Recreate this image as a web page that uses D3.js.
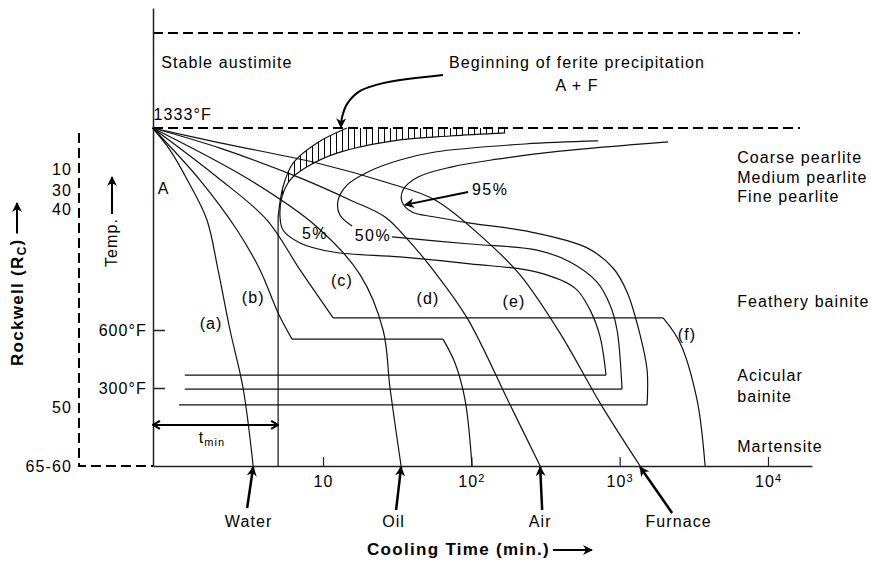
<!DOCTYPE html>
<meta charset="utf-8">
<style>
  body { margin: 0; background: #fff; }
  svg { display: block; background: #fff; font-family: "Liberation Sans", Arial, sans-serif; }
  text { font-size: 16px; letter-spacing: 1.1px; fill: #000; }
  .bold { font-weight: bold; font-size: 17px; letter-spacing: 1.3px; }
</style>
<svg width="871" height="562"></svg>
<script src="https://cdnjs.cloudflare.com/ajax/libs/d3/7.9.0/d3.min.js"></script>
<script>

// time in minutes, temperature in °F (the temperature axis of the sketch is not linear)
var timeTicks = [10, 100, 1000, 10000];
var tempTicks = [300, 600];
var austenitizeTemp = 1333;
var topTemp = 1600;
var tMin = 4.98;

// cooling curves, all starting at 1333°F
var water = [[0.71,1333],[0.93,1253],[1.27,1126],[1.65,999],[1.96,818],[2.36,600],[2.89,300],[3.38,0]];
var curveB = [[0.71,1333],[1.48,1144],[2.63,963],[3.76,818],[4.98,662],[6.18,553]];
var curveBFlat = [[6.18,553],[64.4,553]];
var curveBDrop = [[64.4,553],[77.6,429],[90.7,254],[101,0]];
var curveF = [[0.71,1333],[1.93,1155],[4.19,999],[7.00,818],[11.7,644]];
var curveFFlat = [[11.7,644],[1963,644]];
var curveFDrop = [[1963,644],[2553,533],[3324,254],[3767,0]];
var oil = [[0.71,1333],[3.22,1144],[9.11,974],[17.8,800],[25.4,600],[28.3,300],[33.6,0]];
var air = [[0.71,1333],[2.02,1260],[7.00,1152],[15.2,1072],[26.2,1010],[37.4,927],[55.2,818],[93.6,644],[180,242],[291,0]];
var furnace = [[0.71,1333],[2.02,1279],[9.11,1206],[26.2,1137],[56.9,1072],[124,927],[213,800],[396,584],[738,242],[1374,0]];

// transformation curves
var ferriteStart = [[14.5,1333],[9.11,1279],[6.28,1206],[5.37,1119],[4.98,1010]];
var pct5 = [[169,1315],[71.8,1304],[33.0,1290],[12.4,1242],[7.80,1192],[5.99,1144],[5.29,1083],[5.13,1010],
            [5.37,963],[7.00,916],[11.7,883],[33.0,865],[98.0,840],[277,810],[500,752],[631,673],[738,564],[809,367]];
var pct5Flat = [[809,367],[1.17,367]];
var pct50Upper = [[715,1286],[230,1275],[56.9,1246],[33.0,1217],[20.7,1177],[14.5,1126],[12.6,1068],[13.0,1017],[15.7,977]];
var pct50Lower = [[29.2,938],[98.0,912],[277,890],[463,847],[704,774],[861,691],[960,600],[1037,296]];
var pct50Flat = [[1037,296],[1.17,296]];
var pct95 = [[2120,1283],[396,1249],[149,1220],[74.1,1192],[43.7,1155],[34.6,1108],[34.1,1065],[39.8,1028],[56.9,1010],
             [98.0,988],[249,956],[603,898],[902,825],[1121,738],[1374,574],[1531,393],[1531,235]];
var pct95Flat = [[1531,235],[1.07,235]];

// annotations (anchored in time / temperature)
var curveNames = ["(a)", "(b)", "(c)", "(d)", "(e)", "(f)"];
var curveNameAt = [[1.76,625],[3.38,720],[13.4,781],[51.0,713],[194,705],[2844,579]];
var pctNames = ["5%", "50%", "95%"];
var pctNameAt = [[8.83,952],[21.7,945],[134,1112]];
var phaseNames = ["Coarse pearlite", "Medium pearlite", "Fine pearlite", "Feathery bainite", "Acicular", "bainite", "Martensite"];
var phaseTemps = [1228, 1155, 1083, 702, 367, 269, 77];
var phaseTime = 6194;
var quenchNames = ["Water", "Oil", "Air", "Furnace"];
var quenchTimes = [3.38, 33.6, 291, 1374];
var hardnessNames = ["10", "30", "40", "50", "65-60"];
var hardnessTemps = [1181, 1108, 1039, 227, 0];
var ferriteArrow = [[64.4,1482],[25.4,1459],[17.8,1437],[14.5,1400],[13.4,1361],[13.2,1335]];
var pct95Arrow = [[95.1,1101],[35.7,1054]];
var tMinArrowTemp = 158;

var svg = d3.select("svg");

var x = d3.scaleLog().domain([0.714, 19800]).range([153, 812]);
var y = d3.scaleLinear().domain([0, 300, 600, 1333, 1670]).range([466, 388, 330, 128, 8]);

var smooth = d3.line().x(d => x(d[0])).y(d => y(d[1])).curve(d3.curveCatmullRom.alpha(0.5));
var straight = d3.line().x(d => x(d[0])).y(d => y(d[1]));

var defs = svg.append("defs");
defs.append("marker").attr("id", "head")
    .attr("viewBox", "0 0 10 10").attr("refX", 9).attr("refY", 5)
    .attr("markerWidth", 10).attr("markerHeight", 10)
    .attr("markerUnits", "userSpaceOnUse").attr("orient", "auto")
  .append("path").attr("d", "M0,0L10,5L0,10L3,5Z").attr("fill", "#000");
defs.append("marker").attr("id", "chev")
    .attr("viewBox", "0 0 10 10").attr("refX", 9).attr("refY", 5)
    .attr("markerWidth", 10).attr("markerHeight", 10)
    .attr("markerUnits", "userSpaceOnUse").attr("orient", "auto-start-reverse")
  .append("path").attr("d", "M2,1L9,5L2,9").attr("fill", "none").attr("stroke", "#000").attr("stroke-width", 2);
var pat = defs.append("pattern").attr("id", "hatch")
    .attr("patternUnits", "userSpaceOnUse").attr("width", 6).attr("height", 8);
pat.append("line").attr("x1", 0.5).attr("x2", 0.5).attr("y1", 0).attr("y2", 8)
    .attr("stroke", "#000").attr("stroke-width", 1);

// hatched band: ferrite start line to 5% line
var innerBranch = pct5.slice(0, 8).reverse();
var hatchD = "M" + x(pct5[0][0]) + "," + y(austenitizeTemp) +
    "L" + x(ferriteStart[0][0]) + "," + y(austenitizeTemp) +
    smooth(ferriteStart).replace(/^M/, "L") +
    smooth(innerBranch).replace(/^M/, "L") + "Z";
svg.append("path").attr("d", hatchD).attr("fill", "url(#hatch)");

// dashed guide lines
var dashed = svg.append("g").attr("stroke", "#000").attr("stroke-width", 2)
    .attr("stroke-dasharray", "10,5").attr("fill", "none");
dashed.append("path").attr("d", straight([[0.714, topTemp], [16440, topTemp]]));
dashed.append("path").attr("d", straight([[0.714, austenitizeTemp], [16440, austenitizeTemp]]));
var rockX = 79;
dashed.append("path").attr("d", "M" + rockX + "," + y(1315) + "V" + y(0) + "H" + x(0.714));

// axes
var gy = svg.append("g").attr("transform", "translate(" + x(0.714) + ",0)")
    .call(d3.axisRight(y).tickValues(tempTicks).tickSize(12).tickSizeOuter(0).tickFormat(""));
gy.select(".domain").attr("stroke-width", 1.5);
gy.selectAll(".tick line").attr("stroke-width", 1.5);
gy.attr("color", "#222");

var gx = svg.append("g").attr("transform", "translate(0," + y(0) + ")")
    .call(d3.axisBottom(x).tickValues(timeTicks).tickSize(-9).tickSizeOuter(0).tickPadding(10).tickFormat(() => ""));
gx.attr("color", "#222");
gx.select(".domain").attr("stroke-width", 1.5);
gx.selectAll(".tick line").attr("stroke-width", 1.2);
gx.selectAll(".tick text").each(function(d) {
  var e = Math.round(Math.log10(d));
  var t = d3.select(this).attr("fill", "#000").text("10");
  if (e > 1) t.append("tspan").style("font-size", "11px").attr("dy", "-0.45em").text(e);
});

svg.selectAll(".ytick-label").data(tempTicks).enter().append("text")
    .attr("x", 147).attr("y", d => y(d)).attr("dy", "0.35em")
    .attr("text-anchor", "end").text(d => d + "°F");

// curves
var curves = svg.append("g").attr("fill", "none").attr("stroke", "#111").attr("stroke-width", 1.2);
[water, curveB, curveBDrop, curveF, curveFDrop, oil, air, furnace, ferriteStart, pct5, pct50Upper, pct50Lower, pct95]
  .forEach(function(c) { curves.append("path").attr("d", smooth(c)); });
[curveBFlat, curveFFlat, pct5Flat, pct50Flat, pct95Flat, [[tMin, 1010], [tMin, 0]]]
  .forEach(function(c) { curves.append("path").attr("d", straight(c)); });

// curve and percentage labels
svg.selectAll(".cname").data(curveNames).enter().append("text")
    .attr("x", (d, i) => x(curveNameAt[i][0])).attr("y", (d, i) => y(curveNameAt[i][1]))
    .attr("dy", "0.35em").attr("text-anchor", "middle").text(d => d);
svg.selectAll(".pname").data(pctNames).enter().append("text")
    .attr("x", (d, i) => x(pctNameAt[i][0])).attr("y", (d, i) => y(pctNameAt[i][1]))
    .attr("dy", "0.35em").attr("text-anchor", "middle").style("letter-spacing", "1.5px").text(d => d);

// phase names on the right
svg.selectAll(".phase").data(phaseNames).enter().append("text")
    .attr("x", x(phaseTime)).attr("y", (d, i) => y(phaseTemps[i]))
    .attr("dy", "0.35em").text(d => d);

// hardness scale on the left
svg.selectAll(".hrc").data(hardnessNames).enter().append("text")
    .attr("x", 72).attr("y", (d, i) => y(hardnessTemps[i]))
    .attr("dy", "0.35em").attr("text-anchor", "end").text(d => d);

// region texts
svg.append("text").attr("x", x(0.81)).attr("y", y(1518)).attr("dy", "0.35em").text("Stable austimite");
svg.append("text").attr("x", x(0.72)).attr("y", y(1372)).attr("dy", "0.35em").text("1333°F");
svg.append("text").attr("x", x(0.77)).attr("y", y(1115)).attr("dy", "0.35em").text("A");
svg.append("text").attr("x", x(516)).attr("y", y(1518)).attr("dy", "0.35em")
    .attr("text-anchor", "middle").text("Beginning of ferite precipitation");
svg.append("text").attr("x", x(516)).attr("y", y(1454)).attr("dy", "0.35em")
    .attr("text-anchor", "middle").text("A + F");

// arrows
var arrows = svg.append("g").attr("fill", "none").attr("stroke", "#000");
arrows.append("path").attr("d", smooth(ferriteArrow)).attr("stroke-width", 2).attr("marker-end", "url(#head)");
arrows.append("path").attr("d", straight(pct95Arrow)).attr("stroke-width", 2).attr("marker-end", "url(#head)");
arrows.append("path").attr("d", straight([[0.714, tMinArrowTemp], [tMin, tMinArrowTemp]]))
    .attr("stroke-width", 2).attr("marker-start", "url(#chev)").attr("marker-end", "url(#chev)");

var tm = svg.append("text").attr("x", x(1.785)).attr("y", y(88)).attr("text-anchor", "middle").text("t");
tm.append("tspan").style("font-size", "11px").attr("dy", "0.3em").text("min");

// quench media below the time axis
var quenchTail = [[-6, 508], [-5, 510], [2, 510], [32, 513]];
var quenchLabelDx = [-4.5, -7.5, 0, 38.5];
quenchNames.forEach(function(name, i) {
  var xe = x(quenchTimes[i]);
  arrows.append("line").attr("x1", xe + quenchTail[i][0]).attr("y1", quenchTail[i][1])
      .attr("x2", xe).attr("y2", y(0) + 1).attr("stroke-width", 2.5).attr("marker-end", "url(#head)");
  svg.append("text").attr("x", xe + quenchLabelDx[i]).attr("y", 527)
      .attr("text-anchor", "middle").text(name);
});

// axis titles
var cool = svg.append("text").attr("class", "bold").attr("x", 367).attr("y", 555).text("Cooling Time (min.)");
var cl = cool.node().getComputedTextLength();
arrows.append("line").attr("x1", 367 + cl + 3).attr("x2", 592).attr("y1", 550).attr("y2", 550)
    .attr("stroke-width", 2).attr("marker-end", "url(#head)");

var temp = svg.append("text").attr("transform", "translate(117,267) rotate(-90)").text("Temp.");
var tl = temp.node().getComputedTextLength();
arrows.append("line").attr("x1", 112).attr("x2", 112).attr("y1", 267 - tl - 4).attr("y2", 177)
    .attr("stroke-width", 2).attr("marker-end", "url(#head)");

var rock = svg.append("text").attr("class", "bold").attr("transform", "translate(23,366) rotate(-90)").text("Rockwell (R");
rock.append("tspan").style("font-size", "12px").attr("dy", "0.25em").text("C");
rock.append("tspan").attr("dy", "-0.25em").text(")");
var rl = rock.node().getComputedTextLength();
arrows.append("line").attr("x1", 17).attr("x2", 17).attr("y1", 366 - rl - 5).attr("y2", 203)
    .attr("stroke-width", 2).attr("marker-end", "url(#head)");

</script>
